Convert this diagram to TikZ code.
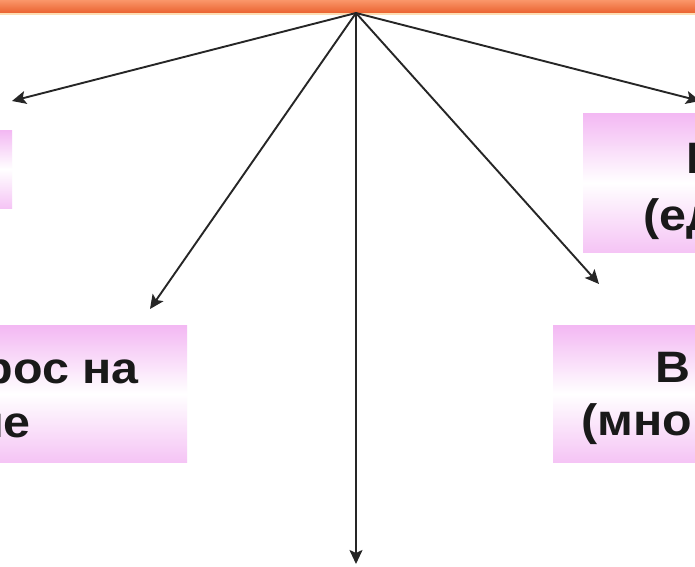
\documentclass[tikz,border=0pt]{standalone}
\usepackage{fontspec}
\setmainfont{Liberation Sans}
\usetikzlibrary{arrows.meta}
\definecolor{pinkbox}{RGB}{243,184,243}
\definecolor{pinkbot}{RGB}{245,196,245}
\definecolor{bartop}{RGB}{250,150,105}
\definecolor{barbot}{RGB}{234,98,48}
\definecolor{barline}{RGB}{253,222,180}
\newcommand{\wide}[1]{\scalebox{1.1}[1]{#1}}
\tikzset{
  pinkrect/.style={draw=none, inner sep=0pt, anchor=north west,
    top color=pinkbox, bottom color=pinkbot, middle color=white},
  lbl/.style={inner sep=0pt, font=\fontsize{44bp}{54bp}\selectfont\bfseries, text=black!90},
  arr/.style={draw=black!85, line width=1.9bp, -{Stealth[length=14bp,width=13bp,inset=3bp]}}
}
\begin{document}
\begin{tikzpicture}[x=1bp,y=-1bp]
\useasboundingbox (0,0) rectangle (695,567);
\clip (0,0) rectangle (695,567);
\fill[white] (0,0) rectangle (695,567);
% top bar
\shade[top color=bartop, bottom color=barbot] (0,0) rectangle (695,13);
\fill[barline] (0,13) rectangle (695,15.5);
% boxes
\node[pinkrect, minimum width=14bp, minimum height=78bp] (btl) at (-2,130) {};
\node[pinkrect, minimum width=114bp, minimum height=139bp] (btr) at (583,113) {};
\node[pinkrect, minimum width=189bp, minimum height=137bp] (bll) at (-2,325) {};
\node[pinkrect, minimum width=144bp, minimum height=137bp] (brl) at (553,325) {};
% texts
\node[lbl, anchor=base west] (tr1) at (686,174) {\wide{Е}};
\node[lbl, anchor=base west] (tr2) at (643,230) {\wide{(ед}};
\node[lbl, anchor=base east] (ll1) at (139,383) {\wide{рос на}};
\node[lbl, anchor=base east] (ll2) at (31,437) {\wide{ие}};
\node[lbl, anchor=base west] (rl1) at (655,382) {\wide{В}};
\node[lbl, anchor=base west] (rl2) at (581,435) {\wide{(мно}};
% connectors
\coordinate (o) at (356,13);
\coordinate (e1) at (12,101);
\coordinate (e2) at (150,309);
\coordinate (e3) at (356,564);
\coordinate (e4) at (599,284);
\coordinate (e5) at (700,101);
\draw[arr] (o) -- (e1);
\draw[arr] (o) -- (e2);
\draw[arr] (o) -- (e3);
\draw[arr] (o) -- (e4);
\draw[arr] (o) -- (e5);
\end{tikzpicture}
\end{document}
